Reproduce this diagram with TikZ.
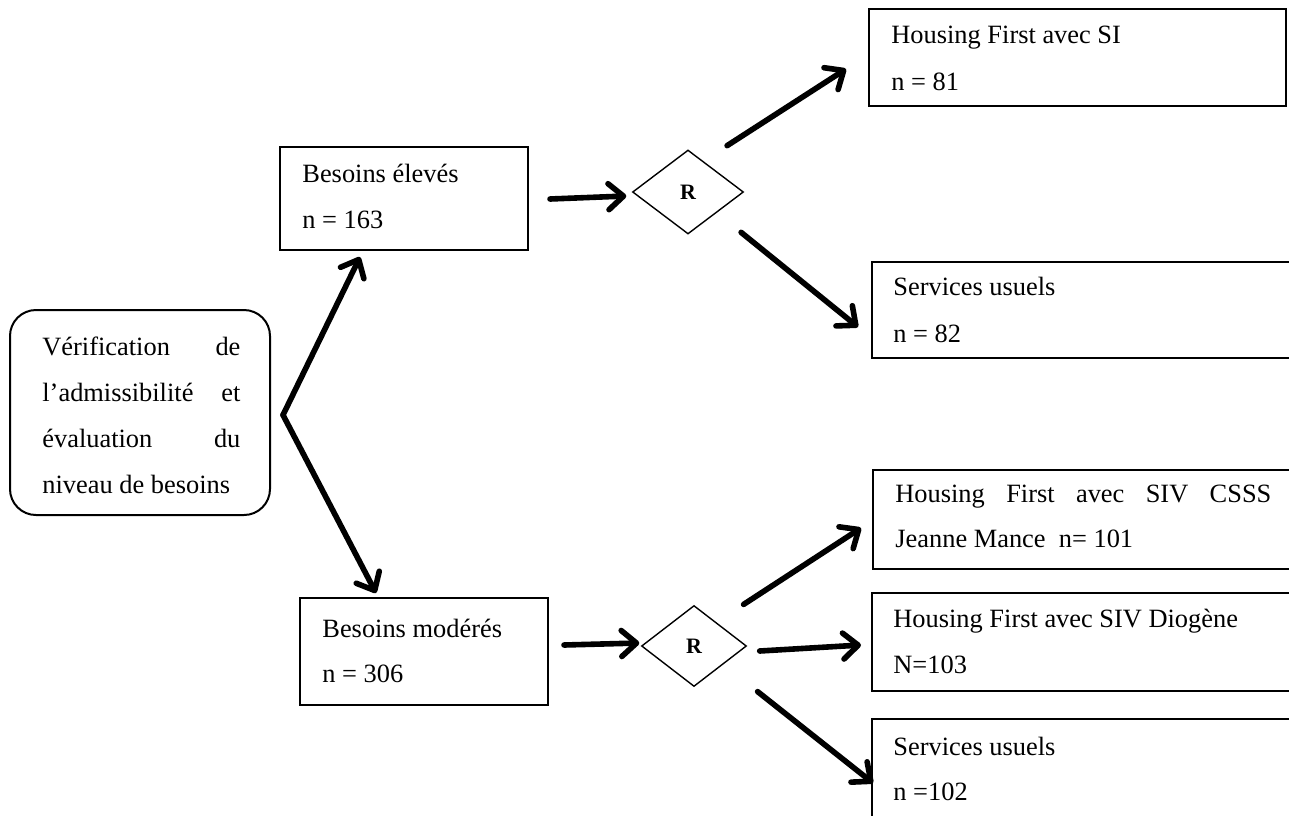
\documentclass[tikz,border=0pt]{standalone}
\usepackage{fontspec}
\setmainfont{Liberation Serif}
\usetikzlibrary{shapes.geometric,arrows.meta}
\begin{document}
\begin{tikzpicture}[x=0.5pt,y=-0.5pt,
  boxnode/.style={draw, line width=1pt, rectangle, inner sep=0pt, outer sep=0pt, anchor=north west},
  startbox/.style={boxnode, rounded corners=13pt},
  choice/.style={draw, line width=0.7pt, diamond, inner sep=0pt, font=\fontsize{11}{13}\selectfont\bfseries},
  txt/.style={anchor=base west, inner sep=0pt, font=\fontsize{13.2}{23}\selectfont},
  jtxt/.style={txt, text width=#1},
  arr/.style={line width=2.8pt, -{Straight Barb[length=7.5pt,width=13pt,round]}, line cap=round, line join=round},
]
\useasboundingbox (0,0) rectangle (1289,815);
\clip (0,0) rectangle (1289,815);

% boxes
\node[startbox, minimum width=130pt, minimum height=102.5pt] (start) at (10,310) {};
\node[boxnode, minimum width=124pt, minimum height=51.5pt] (hb) at (280,147) {};
\node[boxnode, minimum width=124pt, minimum height=53.5pt] (hm) at (300,598) {};
\node[choice, minimum width=55.5pt, minimum height=42pt] (r1) at (688,192) {\raisebox{-1.2pt}{R}};
\node[choice, minimum width=52.5pt, minimum height=40.5pt] (r2) at (694,646) {\raisebox{-1.5pt}{R}};
\node[boxnode, minimum width=208.5pt, minimum height=48.5pt] (o1) at (869,9) {};
\node[boxnode, minimum width=215pt, minimum height=48pt] (o2) at (872,262) {};
\node[boxnode, minimum width=215pt, minimum height=49.5pt] (o3) at (873,470) {};
\node[boxnode, minimum width=215pt, minimum height=49pt] (o4) at (872,593) {};
\node[boxnode, minimum width=215pt, minimum height=60pt] (o5) at (872,719) {};

% texts
\node[jtxt=99pt] (t1) at (42,355) {Vérification\hfill de};
\node[jtxt=99pt] (t2) at (42,401) {l’admissibilité\hfill et};
\node[jtxt=99pt] (t3) at (42,447) {évaluation\hfill du};
\node[txt] (t4) at (42,493) {niveau de besoins};

\node[txt] (hb1) at (302,182) {Besoins élevés};
\node[txt] (hb2) at (302,228) {n = 163};
\node[txt] (hm1) at (322,637) {Besoins modérés};
\node[txt] (hm2) at (322,682) {n = 306};

\node[txt] (o1a) at (891,43) {Housing First avec SI};
\node[txt] (o1b) at (891,90) {n = 81};
\node[txt] (o2a) at (893,295) {Services usuels};
\node[txt] (o2b) at (893,342) {n = 82};
\node[jtxt=188pt] (o3a) at (895,502) {Housing\hfill First\hfill avec\hfill SIV\hfill CSSS};
\node[txt] (o3b) at (895,547) {Jeanne Mance\ \ n= 101};
\node[txt] (o4a) at (893,627) {Housing First avec SIV Diogène};
\node[txt] (o4b) at (893,673) {N=103};
\node[txt] (o5a) at (893,755) {Services usuels};
\node[txt] (o5b) at (893,800) {n =102};

% connectors
\coordinate (v) at ([shift={(13,2.5)}]start.east);
\draw[arr] (v) -- ([shift={(80,7)}]hb.south west);
\draw[arr] (v) -- ([shift={(76,-5)}]hm.north west);
\draw[arr] ([shift={(22,0.5)}]hb.east) -- ([shift={(-5.5,4)}]r1.west);
\draw[arr] ([shift={(11,-25)}]r1.north east) -- ([shift={(-23,-37)}]o1.south west);
\draw[arr] ([shift={(25,19)}]r1.south east) -- ([shift={(-14,-31)}]o2.south west);
\draw[arr] ([shift={(16,-6.5)}]hm.east) -- ([shift={(-1.5,-3)}]r2.west);
\draw[arr] ([shift={(23,-21)}]r2.north east) -- ([shift={(-12,8.5)}]o3.west);
\draw[arr] ([shift={(12.5,5)}]r2.east) -- ([shift={(-11,3)}]o4.west);
\draw[arr] ([shift={(37,25)}]r2.south east) -- ([shift={(1,4)}]o5.west);
\end{tikzpicture}
\end{document}
